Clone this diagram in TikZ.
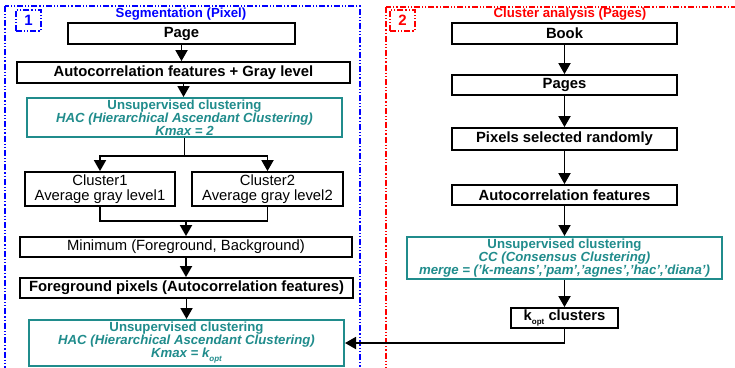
\documentclass[tikz,border=0pt]{standalone}
\usepackage{fontspec}
\setmainfont{Liberation Sans}
\usetikzlibrary{arrows.meta}
\definecolor{tealc}{RGB}{32,140,140}
\newcommand{\subopt}{\raisebox{-4pt}{\fontsize{8}{8}\selectfont opt}}
\begin{document}
\begin{tikzpicture}[x=1pt,y=-1pt,
  blkbox/.style={draw, line width=1.8pt, fill=white, inner sep=0pt, align=center,
    font=\fontsize{14.8}{15}\selectfont\bfseries},
  plainbox/.style={draw, line width=1.8pt, fill=white, inner sep=0pt, align=center,
    font=\fontsize{14.8}{14.5}\selectfont},
  tealbox/.style={draw=tealc, line width=2pt, fill=white, inner sep=0pt, align=center,
    text=tealc, font=\fontsize{13.2}{13}\selectfont\bfseries},
  arr/.style={line width=1.8pt, -{Triangle[length=11pt,width=12pt]}},
  ln/.style={line width=1.8pt},
  frameline/.style={line width=1.2pt, dash pattern=on 6pt off 2pt on 1.2pt off 2pt on 1.2pt off 2pt},
  titletext/.style={font=\fontsize{13.2}{13}\selectfont\bfseries},
  numbox/.style={frameline, line width=1.6pt, minimum width=25pt, minimum height=21pt, inner sep=0pt,
    font=\fontsize{15}{15}\selectfont\bfseries}
]
\clip (0,0) rectangle (735,367);
\fill[white] (0,0) rectangle (735,367);

% dash-dot frames of the two stages
\draw[frameline, blue] (5,6) rectangle (360,380);
\draw[frameline, red] (386,7) rectangle (750,380);
\node[numbox, draw=blue, text=blue] (n1) at (28.5,20.5) {1};
\node[numbox, draw=red, text=red] (n2) at (402.5,20.5) {2};
\node[titletext, text=blue] (t1) at (181,14) {Segmentation (Pixel)};
\node[titletext, text=red] (t2) at (570,14) {Cluster analysis (Pages)};

% stage 1: pixel segmentation
\node[blkbox, minimum width=227pt, minimum height=21pt] (page) at (181.5,33.5) {Page};
\node[blkbox, minimum width=333pt, minimum height=21pt] (auto) at (183.5,72.5) {Autocorrelation features + Gray level};
\node[tealbox, minimum width=315pt, minimum height=39pt] (hac1) at (184.5,117.5)
  {Unsupervised clustering\\{\itshape HAC (Hierarchical Ascendant Clustering)}\\{\itshape Kmax = 2}};
\node[plainbox, minimum width=150pt, minimum height=34pt] (c1) at (100,189) {Cluster1\\Average gray level1};
\node[plainbox, minimum width=151pt, minimum height=34pt] (c2) at (267.5,189) {Cluster2\\Average gray level2};
\node[plainbox, minimum width=332pt, minimum height=20pt] (min) at (186,247) {Minimum (Foreground, Background)};
\node[blkbox, minimum width=333pt, minimum height=20pt] (fg) at (186.5,288) {Foreground pixels (Autocorrelation features)};
\node[tealbox, minimum width=315pt, minimum height=46pt] (hac2) at (186.5,343)
  {Unsupervised clustering\\{\itshape HAC (Hierarchical Ascendant Clustering)}\\{\itshape Kmax = k\subopt}};

% stage 2: cluster analysis of pages
\node[blkbox, minimum width=225pt, minimum height=21pt] (book) at (564.5,33.5) {Book};
\node[blkbox, minimum width=225pt, minimum height=20pt] (pages) at (564.5,85) {Pages};
\node[blkbox, minimum width=225pt, minimum height=22pt] (pix) at (564.5,139) {Pixels selected randomly};
\node[blkbox, minimum width=225pt, minimum height=20pt] (auto2) at (564.5,195) {Autocorrelation features};
\node[tealbox, minimum width=315pt, minimum height=42pt] (cc) at (564.5,258)
  {Unsupervised clustering\\{\itshape CC (Consensus Clustering)}\\{\itshape merge = ('k-means','pam','agnes','hac','diana')}};
\node[blkbox, minimum width=107pt, minimum height=20pt] (kopt) at (564.5,318) {k\subopt\ clusters};

% connectors, stage 1
\draw[arr] (page.south) -- (page.south |- auto.north);
\draw[arr] (auto.south) -- (auto.south |- hac1.north);
\path (hac1.south) ++(0,18) coordinate (split);
\draw[ln] (hac1.south) -- (split);
\draw[arr] (split) -| (c1.north);
\draw[arr] (split) -| (c2.north);
\path (c1.south) ++(0,14) coordinate (join);
\draw[ln] (c1.south) -- (join) -| (c2.south);
\draw[arr] (join -| min.north) -- (min.north);
\draw[arr] (min.south) -- (min.south |- fg.north);
\draw[arr] (fg.south) -- (fg.south |- hac2.north);

% connectors, stage 2
\draw[arr] (book) -- (pages);
\draw[arr] (pages) -- (pix);
\draw[arr] (pix) -- (auto2);
\draw[arr] (auto2) -- (cc);
\draw[arr] (cc) -- (kopt);
\draw[arr] (kopt.south) |- (hac2.east);
\end{tikzpicture}
\end{document}
